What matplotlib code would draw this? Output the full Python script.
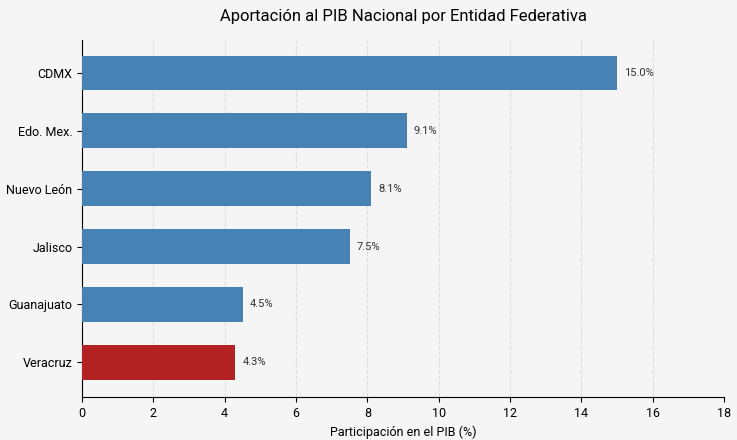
import matplotlib.pyplot as plt

plt.rcParams['font.family'] = ['Roboto', 'DejaVu Sans']

estados = ['CDMX', 'Edo. Mex.', 'Nuevo León', 'Jalisco', 'Guanajuato', 'Veracruz']
participacion = [15.0, 9.1, 8.1, 7.5, 4.5, 4.3]
colores = ['#4682b4'] * 5 + ['#b22222']

fig = plt.figure(figsize=(7.37, 4.4), dpi=100, facecolor='#f5f5f5')
ax = fig.add_axes([82 / 737, 43 / 440, 642 / 737, 357 / 440])
ax.set_facecolor('#f5f5f5')

pos = list(range(len(estados)))[::-1]
ax.barh(pos, participacion, height=0.6, color=colores, zorder=3)
for p, v in zip(pos, participacion):
    ax.text(v + 0.2, p, f'{v:.1f}%', va='center', fontsize=8, color='#333333')

ax.set_yticks(pos)
ax.set_yticklabels(estados, fontsize=9)
ax.set_ylim(-0.6, 5.57)
ax.set_xlim(0, 18)
ax.set_xticks(range(0, 19, 2))
ax.tick_params(axis='x', labelsize=9)
ax.set_xlabel('Participación en el PIB (%)', fontsize=9)
ax.set_title('Aportación al PIB Nacional por Entidad Federativa', fontsize=12, pad=14)
ax.grid(axis='x', linestyle='--', color='#dddddd', linewidth=0.8, zorder=0)
ax.spines['top'].set_visible(False)
ax.spines['right'].set_visible(False)

fig.savefig('out.png', dpi=100, facecolor=fig.get_facecolor())
